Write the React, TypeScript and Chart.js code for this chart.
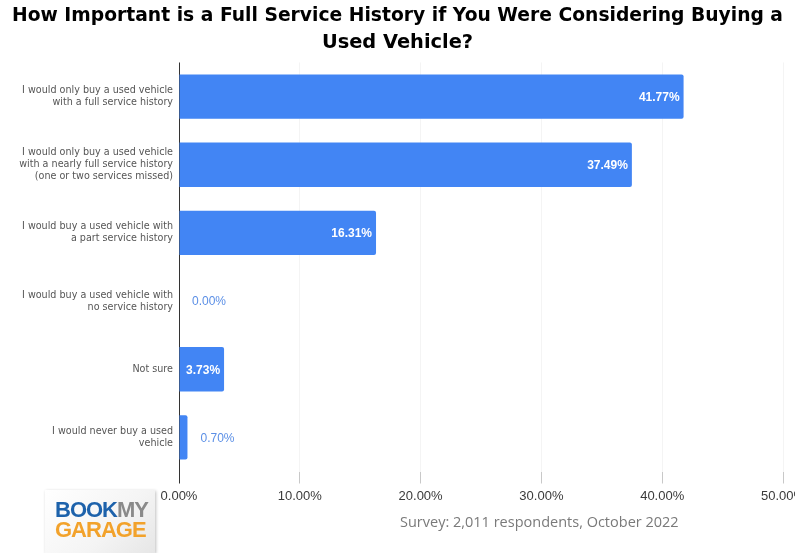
import React, { useEffect, useRef } from 'react';
import { Chart, registerables } from 'chart.js';

Chart.register(...registerables);

const titleLines = [
  'How Important is a Full Service History if You Were Considering Buying a',
  'Used Vehicle?',
];

const categories: (string | string[])[] = [
  ['I would only buy a used vehicle', 'with a full service history'],
  ['I would only buy a used vehicle', 'with a nearly full service history', '(one or two services missed)'],
  ['I would buy a used vehicle with', 'a part service history'],
  ['I would buy a used vehicle with', 'no service history'],
  'Not sure',
  ['I would never buy a used', 'vehicle'],
];

const values = [41.77, 37.49, 16.31, 0.0, 3.73, 0.7];

const xMin = 0;
const xMax = 50;
const xStep = 10;

const footnote = 'Survey: 2,011 respondents, October 2022';
const logoTop = ['BOOK', 'MY'];
const logoBottom = 'GARAGE';

const BAR_COLOR = '#4285f4';

const dataLabelPlugin = {
  id: 'dataLabels',
  afterDatasetsDraw(chart: any) {
    const ctx = chart.ctx;
    const meta = chart.getDatasetMeta(0);
    ctx.save();
    ctx.textBaseline = 'middle';
    meta.data.forEach((el: any, i: number) => {
      const v = values[i];
      const label = v.toFixed(2) + '%';
      if (v >= 2) {
        ctx.font = 'bold 12px "Liberation Sans", Arial, sans-serif';
        ctx.fillStyle = '#ffffff';
        ctx.textAlign = 'right';
        ctx.fillText(label, el.x - 4, el.y + 1);
      } else {
        ctx.font = '12px "Liberation Sans", Arial, sans-serif';
        ctx.fillStyle = '#5b8fe6';
        ctx.textAlign = 'left';
        ctx.fillText(label, el.x + 13, el.y + 1);
      }
    });
    ctx.restore();
  },
};

export default function App() {
  const canvasRef = useRef<HTMLCanvasElement | null>(null);

  useEffect(() => {
    if (!canvasRef.current) return;
    const chart = new Chart(canvasRef.current, {
      type: 'bar',
      data: {
        labels: categories,
        datasets: [
          {
            data: values,
            backgroundColor: BAR_COLOR,
            borderRadius: 2,
            borderSkipped: 'start',
            barPercentage: 0.65,
            categoryPercentage: 1,
          },
        ],
      },
      options: {
        indexAxis: 'y',
        responsive: false,
        animation: false,
        layout: { padding: { left: 12, right: 12, top: 0, bottom: 0 } },
        plugins: {
          legend: { display: false },
          tooltip: { enabled: false },
          title: {
            display: true,
            text: titleLines,
            color: '#000000',
            font: { family: '"DejaVu Sans", sans-serif', size: 19.4, weight: 'bold', lineHeight: 1.42 },
            padding: { top: 2, bottom: 5.4 },
          },
        },
        scales: {
          x: {
            type: 'linear',
            position: 'bottom',
            min: xMin,
            max: xMax,
            ticks: {
              stepSize: xStep,
              color: '#3a3a3a',
              font: { family: '"Liberation Sans", Arial, sans-serif', size: 13 },
              padding: 5,
              callback: (v: any) => Number(v).toFixed(2) + '%',
            },
            grid: {
              color: (c: any) => (c.tick && c.tick.value === 0 ? '#333333' : '#f4f4f4'),
              tickColor: (c: any) => (c.tick && c.tick.value === 0 ? '#333333' : '#c8c8c8'),
              tickLength: 12,
              lineWidth: 1,
            },
            border: { display: false },
            afterFit: (scale: any) => {
              scale.height = 553 - 471.5;
              scale.paddingLeft = 0;
              scale.paddingRight = 0;
            },
          },
          y: {
            type: 'category',
            offset: true,
            ticks: {
              color: '#555555',
              font: { family: '"DejaVu Sans", Verdana, sans-serif', size: 9.6, lineHeight: 1.25 },
              padding: 6,
              autoSkip: false,
            },
            grid: { display: false, drawTicks: false },
            border: { display: false },
            afterFit: (scale: any) => {
              scale.width = 167;
            },
          },
        },
      },
      plugins: [dataLabelPlugin],
    });
    return () => chart.destroy();
  }, []);

  return (
    <div style={{ position: 'absolute', left: 0, top: 0, width: 795, height: 553, overflow: 'hidden', background: '#fff' }}>
      <canvas ref={canvasRef} width={795} height={553} style={{ width: 795, height: 553, display: 'block' }} />
      <div
        style={{
          position: 'absolute',
          left: 45,
          top: 490,
          width: 110,
          height: 63,
          background: 'linear-gradient(135deg, #ffffff 0%, #f4f4f4 60%, #e6e6e6 100%)',
          boxShadow: '1px 1px 3px rgba(0,0,0,0.25)',
          fontFamily: '"Liberation Sans", Arial, sans-serif',
          fontWeight: 900,
          lineHeight: '20px',
          fontSize: 22,
          letterSpacing: -1,
        }}
      >
        <div style={{ position: 'absolute', left: 10, top: 10, whiteSpace: 'nowrap' }}>
          <span style={{ color: '#1d62ab' }}>{logoTop[0]}</span>
          <span style={{ color: '#8a8a8a' }}>{logoTop[1]}</span>
        </div>
        <div style={{ position: 'absolute', left: 10, top: 30, color: '#f2a22b', whiteSpace: 'nowrap' }}>{logoBottom}</div>
      </div>
      <div
        style={{
          position: 'absolute',
          left: 400,
          top: 512,
          color: '#7a7a7a',
          fontFamily: '"Open Sans", sans-serif',
          fontSize: 14.5,
          whiteSpace: 'nowrap',
        }}
      >
        {footnote}
      </div>
    </div>
  );
}
